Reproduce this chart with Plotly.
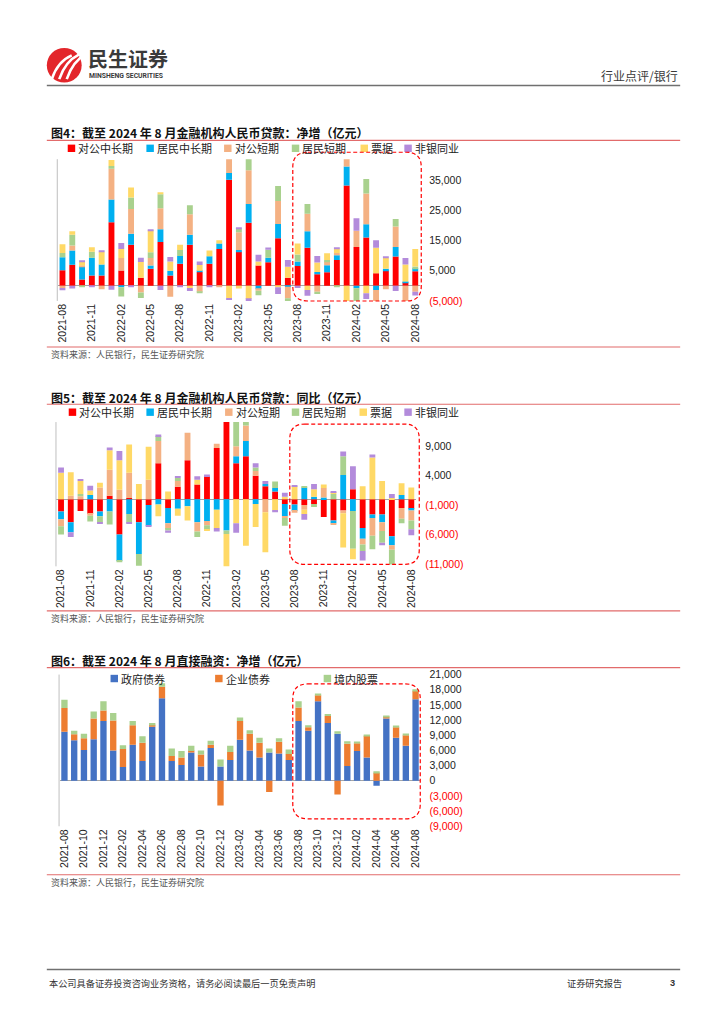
import plotly.graph_objects as go

W, H = 724, 1024

months = ["2021-08", "2021-09", "2021-10", "2021-11", "2021-12",
          "2022-01", "2022-02", "2022-03", "2022-04", "2022-05", "2022-06",
          "2022-07", "2022-08", "2022-09", "2022-10", "2022-11", "2022-12",
          "2023-01", "2023-02", "2023-03", "2023-04", "2023-05", "2023-06",
          "2023-07", "2023-08", "2023-09", "2023-10", "2023-11", "2023-12",
          "2024-01", "2024-02", "2024-03", "2024-04", "2024-05", "2024-06",
          "2024-07", "2024-08"]

loan_names = ["对公中长期", "居民中长期", "对公短期", "居民短期", "票据", "非银同业"]
loan_colors = ["#FF0000", "#00B0F0", "#F4B183", "#A9D18E", "#FFD966", "#B38BDB"]

# Fig 4: net increase (亿元)
net_corp_long = [5200, 7000, 2100, 3400, 3400, 21100, 5100, 13600, 2700, 5700, 14500, 3400, 7300, 13600, 4600, 7300, 12200,
                 35200, 11300, 20900, 6700, 7800, 15800, 2700, 6600, 12600, 3800, 4500, 8600, 33300, 12900, 16000, 4200, 5100, 9700, 1200, 4800]
net_hh_long = [4300, 4700, 4300, 5900, 3700, 7500, -500, 3700, 0, 1000, 4300, 1600, 2600, 3300, 400, 2500, 1800,
               2200, 600, 6200, -1100, 1500, 4700, -300, 1500, 5500, 800, 2300, 1500, 6300, -800, 4400, -1400, 600, 3200, 200, 1000]
net_corp_short = [-700, 1700, 300, 0, -1100, 10200, 4100, 8200, -2200, 2500, 6900, -3600, 0, 6800, -2000, 0, -400,
                  4800, 5900, 11200, -500, 0, 7600, -3800, 0, 5800, -2000, 1300, 800, 2700, 5400, 10200, -4500, -1100, 6800, -5300, -2000]
net_hh_short = [1400, 3500, -300, 2000, 0, 900, -3000, 3800, -1800, 1900, 4700, 0, 2000, 3000, -300, 0, 0,
                0, 1200, 4000, -1500, 2700, 5000, -1000, 2300, 3200, -700, 500, -400, 0, -5000, 4800, 0, 0, 2500, 0, 600]
net_bill = [2900, 1200, 1200, 1500, 4200, 2000, 3000, 3300, 5200, 7300, 500, 3100, 1700, -700, 1900, 1900, 1100,
            -4000, -900, -4400, 1400, 0, -500, 3600, 3600, -1400, 3100, 2200, 1400, -5600, 0, -2500, 8400, 3600, 0, 5700, 5800]
net_nonbank = [-800, -900, 500, -300, 500, -1300, 2000, -500, 1400, 400, -1400, 1500, -400, -1000, 1200, -300, 0,
               -700, 200, -600, 2200, 700, -2200, 2300, -700, -1900, 2200, 0, 300, 0, 4100, -1900, 2500, 400, -1700, 2100, -1200]

# Fig 5: year-on-year change (亿元)
yoy_corp_long = [-2100, -3900, -2000, -2500, -2100, 600, -6000, 200, -3900, -1000, 6100, -1500, 2100, 6600, 2500, 3900, 8700,
                 13500, 6100, 7300, 4000, 2200, 1300, -800, -900, -1000, -800, -3000, -3600, -1900, 1700, -4900, -2600, -2600, -6300, -1500, -1600]
yoy_hh_long = [-1300, -1700, 0, 700, -800, -2100, -4500, -2500, -5400, -3500, -900, -2600, -1600, -1200, -3900, -3700, -1800,
               -5300, 1200, 2600, -800, 400, 600, -2100, -1100, 2000, 400, 300, -500, 4100, -2000, -1800, -600, -1300, -1500, 700, -300]
yoy_corp_short = [-1200, 600, 500, -300, 2000, 4400, 1600, 4300, 0, 3300, 3800, -900, 1000, 4700, -1600, -700, 700,
                  0, 1700, 2600, 800, -2200, 0, -300, -300, -800, 0, 1600, -200, -500, 0, -1000, -3000, -1500, -800, -1800, -1700]
yoy_hh_short = [-1400, 0, 400, -1000, -1100, -2200, -200, -1500, -2000, 0, 800, -300, 500, 0, -900, -800, 0,
                -600, 4500, 600, 600, 0, 1100, -1300, 0, 200, -500, 0, 900, 3200, -6400, -1100, -2300, -2000, -2500, -800, -1500]
yoy_bill = [4500, 4000, 2200, 800, 800, 3300, 5000, 4800, 2600, 5600, -2000, 1300, -1200, -2400, 800, -200, -3100,
            -6000, -4100, -7900, -3900, -6800, -1900, 400, 2200, -700, 1300, 600, 300, -5800, -1800, 2200, 7100, 3100, 200, 2000, 2000]
yoy_nonbank = [900, -800, 350, 800, -200, 500, 1600, -100, 0, -200, 300, -400, 300, 0, 600, 300, -600,
               0, -1600, 0, 700, 500, -300, 700, 200, -1000, 900, 0, 200, 800, 3900, -1600, 500, -400, 700, 0, -1000]

# Fig 6: direct financing (亿元)
fin_names = ["政府债券", "企业债券", "境内股票"]
fin_colors = ["#4472C4", "#ED7D31", "#A9D18E"]
gov_bond = [9700, 8000, 6100, 8200, 11800, 6000, 2700, 7100, 3900, 10700, 16300, 3900, 3100, 5600, 2800, 6500, 2800,
            4100, 8100, 6000, 4600, 5600, 5400, 4100, 11800, 9900, 15700, 11400, 9300, 2900, 5900, 4600, -1000, 12300, 8500, 6900, 16100]
corp_bond = [4700, 1200, 2300, 4100, 2100, 5900, 3600, 3900, 3600, 400, 2300, 1000, 1500, 300, 2400, 600, -4900,
             1600, 3700, 3300, 2900, -2200, 2300, 1200, 2700, 700, 1200, 1400, -2700, 4400, 1500, 4300, 1600, 300, 2100, 2100, 1700]
equity = [1600, 700, 900, 1400, 1800, 1500, 700, 800, 1300, 300, 700, 1500, 1300, 1000, 800, 800, 1400,
          1200, 700, 700, 1000, 800, 700, 900, 1200, 400, 300, 400, 500, 500, 200, 200, 300, 100, 200, 300, 300]

ticks4 = [35000, 25000, 15000, 5000, -5000]
ticks5 = [9000, 4000, -1000, -6000, -11000]
ticks6 = [21000, 18000, 15000, 12000, 9000, 6000, 3000, 0, -3000, -6000, -9000]

CJK = "Noto Sans CJK SC"
NUM = "Liberation Sans"


def fx(x):
    return x / W


def fy(y):
    return 1 - y / H


def fmt(v):
    if v < 0:
        return "<span style='color:#FF0000'>(%s)</span>" % format(-v, ",")
    return format(v, ",")


fig = go.Figure()

net_series = [net_corp_long, net_hh_long, net_corp_short, net_hh_short, net_bill, net_nonbank]
yoy_series = [yoy_corp_long, yoy_hh_long, yoy_corp_short, yoy_hh_short, yoy_bill, yoy_nonbank]
for name, col, vals in zip(loan_names, loan_colors, net_series):
    fig.add_trace(go.Bar(x=months, y=vals, name=name, marker_color=col, marker_line_width=0,
                         width=0.6, xaxis="x", yaxis="y", showlegend=False))
for name, col, vals in zip(loan_names, loan_colors, yoy_series):
    fig.add_trace(go.Bar(x=months, y=vals, name=name, marker_color=col, marker_line_width=0,
                         width=0.6, xaxis="x2", yaxis="y2", showlegend=False))
for name, col, vals in zip(fin_names, fin_colors, [gov_bond, corp_bond, equity]):
    fig.add_trace(go.Bar(x=months, y=vals, name=name, marker_color=col, marker_line_width=0,
                         width=0.65, xaxis="x3", yaxis="y3", showlegend=False))


def xax(x0, x1, y, step):
    return dict(domain=[fx(x0), fx(x1)], anchor=y, type="category", range=[-0.5, len(months) - 0.5],
                tickmode="array", tickvals=months[::step], ticktext=months[::step], tickangle=-90,
                tickfont=dict(family=NUM, size=10.5, color="#222222"), showgrid=False, showline=False,
                ticks="", zeroline=False)


def yax(y0, y1, x, rng, tv):
    return dict(domain=[fy(y1), fy(y0)], anchor=x, side="right", range=rng, tickmode="array",
                tickvals=tv, ticktext=[fmt(v) for v in tv], tickfont=dict(family=NUM, size=10.5, color="#222222"),
                showgrid=False, showline=False, ticks="", zeroline=True, zerolinecolor="#A6A6A6",
                zerolinewidth=1, ticklabelstandoff=8)


fig.update_layout(
    width=W, height=H, margin=dict(l=0, r=0, t=0, b=0),
    paper_bgcolor="white", plot_bgcolor="rgba(0,0,0,0)",
    barmode="relative", bargap=0.4,
    xaxis=xax(55.8, 419.9, "y", 3),
    yaxis=yax(155, 298.4, "x", [-5000, 42000], ticks4),
    xaxis2=xax(54.4, 415.9, "y2", 3),
    yaxis2=yax(421, 567, "x2", [-11400, 13100], ticks5),
    xaxis3=xax(57.8, 420.2, "y3", 2),
    yaxis3=yax(676.5, 830, "x3", [-9000, 21000], ticks6),
)

shapes = []
annots = []


def hline(y, x0, x1, color, w):
    shapes.append(dict(type="line", xref="paper", yref="paper", x0=fx(x0), x1=fx(x1), y0=fy(y), y1=fy(y),
                       line=dict(color=color, width=w)))


def vline(x, y0, y1, color, w):
    shapes.append(dict(type="line", xref="paper", yref="paper", x0=fx(x), x1=fx(x), y0=fy(y0), y1=fy(y1),
                       line=dict(color=color, width=w)))


def text(x, y, s, size, color="#222222", family=CJK, anchor="left", bold=False):
    if bold:
        s = "<b>%s</b>" % s
    annots.append(dict(xref="paper", yref="paper", x=fx(x), y=fy(y), text=s, showarrow=False,
                       xanchor=anchor, yanchor="middle", font=dict(family=family, size=size, color=color)))


def rounded(x0, y0, x1, y1, r):
    pts = [("M", x0 + r, y0), ("L", x1 - r, y0), ("Q", x1, y0, x1, y0 + r), ("L", x1, y1 - r),
           ("Q", x1, y1, x1 - r, y1), ("L", x0 + r, y1), ("Q", x0, y1, x0, y1 - r), ("L", x0, y0 + r),
           ("Q", x0, y0, x0 + r, y0)]
    p = ""
    for item in pts:
        cmd = item[0]
        coords = item[1:]
        seg = " ".join("%.5f,%.5f" % (fx(coords[i]), fy(coords[i + 1])) for i in range(0, len(coords), 2))
        p += "%s%s " % (cmd, seg)
    p += "Z"
    shapes.append(dict(type="path", xref="paper", yref="paper", path=p,
                       line=dict(color="#FF0000", width=1.2, dash="4px,2.5px")))


# header
shapes.append(dict(type="circle", xref="paper", yref="paper", x0=fx(45), x1=fx(80), y0=fy(77.5), y1=fy(42.5),
                   fillcolor="#E3262B", line=dict(width=0)))
for k in range(3):
    sx = 50 + k * 7.5
    shapes.append(dict(type="path", xref="paper", yref="paper",
                       path="M%.5f,%.5f Q%.5f,%.5f %.5f,%.5f" % (fx(sx), fy(74), fx(sx + 6), fy(56),
                                                                 fx(sx + 20), fy(50 - k)),
                       line=dict(color="white", width=2.6)))
text(84, 53, "民生证券", 20, "#3A3A3A", bold=True)
text(85, 70.5, "MINSHENG SECURITIES", 6.8, "#3A3A3A", family="Roboto", bold=True)
text(681, 70, "行业点评/银行", 12, "#3A3A3A", anchor="right")
hline(80.5, 45, 681, "#707070", 1.6)

# footer
hline(975, 45, 681, "#707070", 1.4)
text(45, 989, "本公司具备证券投资咨询业务资格，请务必阅读最后一页免责声明", 9.2, "#333333")
text(565, 989, "证券研究报告", 9.2, "#333333")
text(669, 989, "3", 9.2, "#333333", family=NUM, bold=True)

red_line = "#E26B6B"
titles = [(128.5, "图4：截至 2024 年 8 月金融机构人民币贷款：净增（亿元）", 136, 345, 353),
          (396, "图5：截至 2024 年 8 月金融机构人民币贷款：同比（亿元）", 403, 612, 620),
          (662, "图6：截至 2024 年 8 月直接融资：净增（亿元）", 669.5, 879, 887)]
for ty, t, l1, l2, sy in titles:
    text(47, ty, t, 12, "#111111", bold=True)
    hline(l1, 45, 681, red_line, 1.1)
    hline(l2, 45, 681, red_line, 1.1)
    text(47, sy, "资料来源：人民银行，民生证券研究院", 9, "#555555")


# legends (drawn from the series names / colours)
def legend(y, xs, names, colors):
    for mx, nm, c in zip(xs, names, colors):
        shapes.append(dict(type="rect", xref="paper", yref="paper", x0=fx(mx), x1=fx(mx + 7.5),
                           y0=fy(y + 3.75), y1=fy(y - 3.75), fillcolor=c, line=dict(width=0)))
        text(mx + 8.5, y, nm, 11, "#222222")


legend(144, [66, 145, 223, 291, 360, 404], loan_names, loan_colors)
legend(411, [67, 145, 224, 291, 359, 404], loan_names, loan_colors)
legend(680.5, [109, 214, 323], fin_names, fin_colors)

# left axis lines
vline(55.5, 155, 298.4, "#BFBFBF", 1)
vline(54.2, 421, 567, "#BFBFBF", 1)
vline(57.3, 676.5, 830, "#BFBFBF", 1)

# highlight boxes
rounded(292, 148, 421, 298.5, 15)
rounded(289, 423, 419, 565, 15)
rounded(292, 686, 420, 822.5, 15)

fig.update_layout(shapes=shapes, annotations=annots)
fig.write_html("out.html", config={"displayModeBar": False},
               post_script="document.body.style.margin='0px';document.body.style.padding='0px';")
